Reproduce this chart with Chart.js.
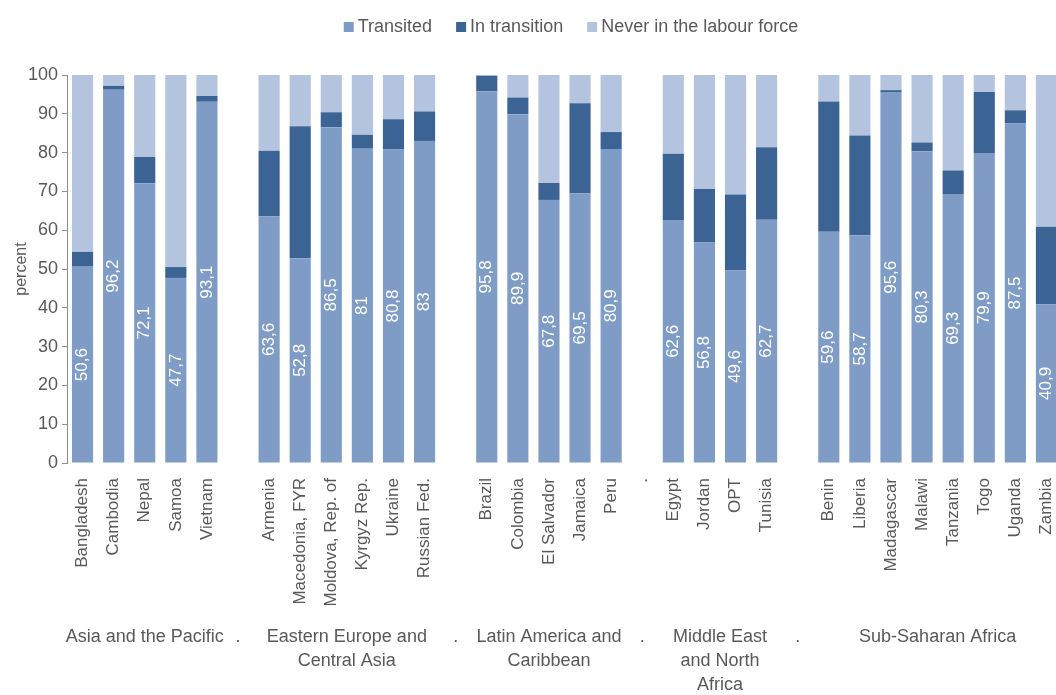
<!DOCTYPE html>
<html>
<head>
<meta charset="utf-8">
<script src="https://cdn.jsdelivr.net/npm/chart.js@4"></script>
<style>
  body { margin: 0; overflow: hidden; background: #fff; }
  #wrap { width: 1142px; height: 695px; }
</style>
</head>
<body>
<div id="wrap"><canvas id="chart"></canvas></div>
<script>
// categories (blank entries are the gaps between regions)
const countries = [
    'Bangladesh', 'Cambodia', 'Nepal', 'Samoa', 'Vietnam', '',
    'Armenia', 'Macedonia, FYR', 'Moldova, Rep. of', 'Kyrgyz Rep.', 'Ukraine', 'Russian Fed.', '',
    'Brazil', 'Colombia', 'El Salvador', 'Jamaica', 'Peru', '.',
    'Egypt', 'Jordan', 'OPT', 'Tunisia', '',
    'Benin', 'Liberia', 'Madagascar', 'Malawi', 'Tanzania', 'Togo', 'Uganda', 'Zambia'
]

const transited = [
    50.6, 96.2, 72.1, 47.7, 93.1, null,
    63.6, 52.8, 86.5, 81, 80.8, 83, null,
    95.8, 89.9, 67.8, 69.5, 80.9, null,
    62.6, 56.8, 49.6, 62.7, null,
    59.6, 58.7, 95.6, 80.3, 69.3, 79.9, 87.5, 40.9
]
const inTransition = [
    3.8, 1.0, 6.8, 2.8, 1.5, null,
    16.9, 34.0, 3.9, 3.6, 7.8, 7.6, null,
    4.0, 4.3, 4.4, 23.2, 4.4, null,
    17.1, 13.8, 19.6, 18.7, null,
    33.6, 25.7, 0.5, 2.3, 6.1, 15.7, 3.4, 20.0
]
const neverInLF = [
    45.6, 2.8, 21.1, 49.5, 5.4, null,
    19.5, 13.2, 9.6, 15.4, 11.4, 9.4, null,
    0.2, 5.8, 27.8, 7.3, 14.7, null,
    20.3, 29.4, 30.8, 18.6, null,
    6.8, 15.6, 3.9, 17.4, 24.6, 4.4, 9.1, 39.1
]

// regions: label lines, first index, last index
const regions = [
    { lines: ['Asia and the Pacific'], from: 0, to: 4 },
    { lines: ['Eastern Europe and', 'Central Asia'], from: 6, to: 11 },
    { lines: ['Latin America and', 'Caribbean'], from: 13, to: 17 },
    { lines: ['Middle East', 'and North', 'Africa'], from: 19, to: 22 },
    { lines: ['Sub-Saharan Africa'], from: 24, to: 31 }
]
const gaps = [5, 12, 18, 23]

const yTicks = [0, 10, 20, 30, 40, 50, 60, 70, 80, 90, 100]

const FONT = "'Liberation Sans Narrow', 'Arial Narrow', 'Liberation Sans', sans-serif"
const GREY = '#595959'

const valueLabels = {
    id: 'valueLabels',
    afterDatasetsDraw(chart) {
        const ctx = chart.ctx
        const meta = chart.getDatasetMeta(0)
        ctx.save()
        ctx.fillStyle = '#ffffff'
        ctx.font = '17px ' + FONT
        ctx.textAlign = 'center'
        ctx.textBaseline = 'middle'
        meta.data.forEach((bar, i) => {
            const v = transited[i]
            if (v == null) return
            const cy = (bar.y + bar.base) / 2
            ctx.save()
            ctx.translate(bar.x, cy)
            ctx.rotate(-Math.PI / 2)
            ctx.fillText(String(v).replace('.', ','), 0, 0)
            ctx.restore()
        })
        ctx.restore()
    }
}

const regionLabels = {
    id: 'regionLabels',
    afterDraw(chart) {
        const ctx = chart.ctx
        const xs = chart.scales.x
        const top = chart.chartArea.bottom + 174
        ctx.save()
        ctx.fillStyle = GREY
        ctx.font = '18px ' + FONT
        ctx.textAlign = 'center'
        ctx.textBaseline = 'middle'
        regions.forEach(r => {
            const cx = (xs.getPixelForValue(r.from) + xs.getPixelForValue(r.to)) / 2
            r.lines.forEach((line, k) => ctx.fillText(line, cx, top + k * 24))
        })
        gaps.forEach(g => ctx.fillText('.', xs.getPixelForValue(g), top))
        ctx.restore()
    }
}

// legend drawn by hand so it can sit centred over the full (cropped) chart
const topLegend = {
    id: 'topLegend',
    afterDraw(chart) {
        const ctx = chart.ctx
        const sets = chart.data.datasets
        ctx.save()
        ctx.font = '18px ' + FONT
        ctx.textBaseline = 'middle'
        const box = 10, gapBox = 4, gapItem = 24
        const widths = sets.map(d => box + gapBox + ctx.measureText(d.label).width)
        const total = widths.reduce((a, b) => a + b, 0) + gapItem * (sets.length - 1)
        let x = 571 - total / 2
        const y = 27
        sets.forEach((d, i) => {
            ctx.fillStyle = d.backgroundColor
            ctx.fillRect(x, y - box / 2, box, box)
            ctx.fillStyle = GREY
            ctx.fillText(d.label, x + box + gapBox, y)
            x += widths[i] + gapItem
        })
        ctx.restore()
    }
}

const ctx = document.getElementById('chart').getContext('2d')

new Chart(ctx, {
    type: 'bar',
    data: {
        labels: countries,
        datasets: [
            { label: 'Transited', data: transited, backgroundColor: '#7f9cc7' },
            { label: 'In transition', data: inTransition, backgroundColor: '#3b6494' },
            { label: 'Never in the labour force', data: neverInLF, backgroundColor: '#b5c4de' }
        ]
    },
    options: {
        responsive: true,
        maintainAspectRatio: false,
        animation: false,
        layout: { padding: { top: 75, right: 80, left: 0, bottom: 0 } },
        datasets: { bar: { categoryPercentage: 1, barPercentage: 0.68 } },
        plugins: {
            tooltip: { enabled: false },
            legend: { display: false }
        },
        scales: {
            x: {
                stacked: true,
                grid: { display: false },
                border: { display: false },
                ticks: {
                    autoSkip: false,
                    minRotation: 90,
                    maxRotation: 90,
                    padding: 7,
                    color: GREY,
                    font: { family: FONT, size: 17 }
                },
                afterFit: scale => { scale.height = 232 }
            },
            y: {
                stacked: true,
                min: 0,
                max: 100,
                afterBuildTicks: scale => { scale.ticks = yTicks.map(v => ({ value: v })) },
                grid: { drawOnChartArea: false, drawTicks: true, tickLength: 5, color: '#8c8c8c' },
                border: { display: true, color: '#8c8c8c' },
                ticks: {
                    padding: 4,
                    color: GREY,
                    font: { family: FONT, size: 18 }
                },
                title: {
                    display: true,
                    text: 'percent',
                    color: GREY,
                    padding: { top: 12, bottom: 0 },
                    font: { family: FONT, size: 16 }
                },
                afterFit: scale => { scale.width = 67 }
            }
        }
    },
    plugins: [valueLabels, regionLabels, topLegend]
})
</script>
</body>
</html>
